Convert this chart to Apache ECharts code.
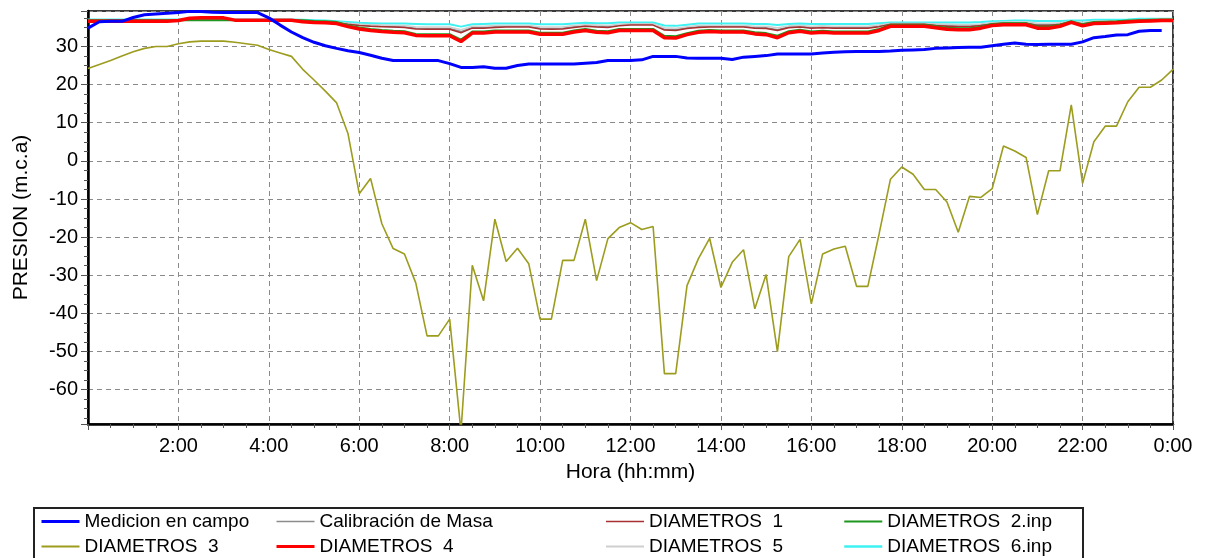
<!DOCTYPE html>
<html><head><meta charset="utf-8">
<script src="https://cdn.jsdelivr.net/npm/echarts@6/dist/echarts.min.js"></script>
<style>html,body{margin:0;padding:0;background:#fff}#c{width:1212px;height:558px}</style>
</head><body><div id="c"></div>
<script>
const hours = [0,0.25,0.5,0.75,1,1.25,1.5,1.75,2,2.25,2.5,2.75,3,3.25,3.5,3.75,4,4.25,4.5,4.75,5,5.25,5.5,5.75,6,6.25,6.5,6.75,7,7.25,7.5,7.75,8,8.25,8.5,8.75,9,9.25,9.5,9.75,10,10.25,10.5,10.75,11,11.25,11.5,11.75,12,12.25,12.5,12.75,13,13.25,13.5,13.75,14,14.25,14.5,14.75,15,15.25,15.5,15.75,16,16.25,16.5,16.75,17,17.25,17.5,17.75,18,18.25,18.5,18.75,19,19.25,19.5,19.75,20,20.25,20.5,20.75,21,21.25,21.5,21.75,22,22.25,22.5,22.75,23,23.25,23.5,23.75,24];
const xTickLabels = ['', '2:00', '4:00', '6:00', '8:00', '10:00', '12:00', '14:00', '16:00', '18:00', '20:00', '22:00', '0:00'];
const yTickLabels = [-60, -50, -40, -30, -20, -10, 0, 10, 20, 30];

const medicion = [34.8,36.5,36.6,36.6,37.6,38.3,38.5,38.7, 38.9,39.2,39.2,39.0,38.9,38.9,38.9,38.9, 37.5,35.6,33.8,32.3,31.1,30.2,29.5,28.9, 28.4,27.7,26.9,26.3,26.3,26.3,26.3,26.3, 25.5,24.5,24.5,24.7,24.3,24.3,25.0,25.4, 25.4,25.4,25.4,25.4,25.6,25.8,26.3,26.3, 26.3,26.5,27.4,27.4,27.4,27.0,26.9,26.9, 26.9,26.6,27.2,27.4,27.6,28.0,28.0,28.0, 28.0,28.3,28.5,28.6,28.7,28.7,28.7,28.8, 29.0,29.1,29.2,29.5,29.6,29.7,29.8,29.8, 30.2,30.6,30.9,30.6,30.5,30.6,30.6,30.6, 31.2,32.3,32.6,33.0,33.1,34.0,34.2,34.2, null];
const calibracion = [37.0,37.0,37.0,37.0,37.0,37.0,37.0,37.0, 37.0,37.0,37.0,37.0,37.0,37.0,37.0,37.0, 37.0,37.0,36.9,36.8,36.7,36.5,36.3,36.0, 35.6,35.4,35.3,35.2,35.1,34.8,34.7,34.7, 34.7,33.9,35.0,35.0,35.2,35.3,35.3,35.3, 34.8,34.7,34.8,35.2,35.5,35.3,35.2,35.6, 35.8,35.8,35.8,34.5,34.4,34.9,35.2,35.3, 35.3,35.3,35.3,35.0,34.9,34.4,35.1,35.3, 35.0,35.1,35.0,35.0,35.0,35.0,35.4,35.9, 35.9,35.9,35.9,35.7,35.5,35.4,35.4,35.7, 36.0,36.2,36.2,36.2,35.7,35.7,35.9,36.5, 36.0,36.4,36.5,36.6,36.7,36.9,37.0,37.1, 37.1];
const diametros1 = [36.9,36.9,36.9,36.9,36.9,36.9,36.9,36.9, 36.9,36.9,36.9,36.9,36.9,36.9,36.9,36.9, 36.9,36.9,36.8,36.7,36.6,36.4,36.2,35.8, 35.5,35.3,35.2,35.1,35.0,34.6,34.5,34.5, 34.5,33.6,34.8,34.8,35.0,35.1,35.1,35.1, 34.6,34.5,34.6,35.0,35.3,35.1,35.0,35.4, 35.6,35.6,35.6,34.3,34.2,34.7,35.0,35.1, 35.1,35.1,35.1,34.8,34.7,34.2,34.9,35.1, 34.8,34.9,34.8,34.8,34.8,34.8,35.2,35.8, 35.8,35.8,35.8,35.5,35.3,35.2,35.2,35.5, 35.9,36.1,36.1,36.1,35.5,35.5,35.8,36.4, 35.9,36.3,36.4,36.5,36.6,36.8,36.9,37.0, 37.0];
const diametros2 = [36.9,36.9,36.9,36.9,36.9,36.9,36.9,36.9, 36.9,36.9,36.9,36.9,36.9,36.9,36.9,36.9, 36.9,36.9,36.9,36.9,36.7,36.6,36.4,35.6, 35.0,34.6,34.3,34.1,34.0,33.3,33.2,33.2, 33.2,31.8,33.9,33.9,34.2,34.2,34.2,34.2, 33.6,33.6,33.6,34.2,34.6,34.1,34.0,34.6, 34.6,34.6,34.6,32.8,32.7,33.5,34.1,34.3, 34.2,34.2,34.2,33.7,33.5,32.8,34.0,34.4, 33.9,34.1,33.9,33.9,33.9,33.9,34.6,35.7, 35.7,35.7,35.7,35.3,34.9,34.8,34.8,35.2, 35.9,36.1,36.1,36.1,35.2,35.2,35.7,36.6, 35.8,36.4,36.5,36.6,36.8,36.9,37.0,37.1, 37.1];
const diametros3 = [24.2,25.3,26.3,27.5,28.6,29.5,30.0,30.0, 30.7,31.2,31.4,31.4,31.4,31.1,30.7,30.3, 29.2,28.3,27.4,24.0,21.2,18.3,15.2,7.2, -8.6,-4.6,-16.5,-23.0,-24.4,-32.0,-45.9,-45.9, -41.5,-71.0,-27.4,-36.7,-15.3,-26.4,-22.9,-27.0, -41.5,-41.5,-26.1,-26.1,-15.3,-31.4,-20.4,-17.5, -16.2,-18.0,-17.2,-55.8,-55.8,-32.7,-25.7,-20.3, -33.2,-26.6,-23.3,-38.8,-29.8,-50.0,-25.1,-20.6, -37.5,-24.4,-23.1,-22.4,-32.9,-32.9,-19.1,-4.8, -1.6,-3.5,-7.5,-7.5,-10.8,-18.7,-9.3,-9.6, -7.3,3.9,2.6,0.9,-14.1,-2.6,-2.6,14.7, -5.9,5.0,9.1,9.1,15.5,19.3,19.3,21.2, 24.0];
const diametros4 = [36.6,36.6,36.6,36.6,36.6,36.6,36.6,36.6, 36.8,37.4,37.5,37.5,37.5,36.9,36.9,36.9, 36.9,36.9,36.9,36.5,36.3,36.2,36.0,35.2, 34.6,34.2,33.9,33.7,33.6,32.9,32.8,32.8, 32.8,31.3,33.5,33.5,33.8,33.8,33.8,33.8, 33.2,33.2,33.2,33.8,34.2,33.7,33.6,34.2, 34.2,34.2,34.2,32.3,32.2,33.1,33.7,33.9, 33.8,33.8,33.8,33.3,33.1,32.3,33.6,34.0, 33.5,33.7,33.5,33.5,33.5,33.5,34.2,35.3, 35.3,35.3,35.3,34.9,34.5,34.4,34.4,34.8, 35.5,35.7,35.7,35.7,34.8,34.8,35.3,36.3, 35.4,36.0,36.1,36.2,36.4,36.6,36.7,36.8, 36.8];
const diametros5 = [37.0,37.0,37.0,37.0,37.0,37.0,37.0,37.0, 37.0,37.0,37.0,37.0,37.0,37.0,37.0,37.0, 37.0,37.0,36.9,36.8,36.7,36.6,36.4,36.1, 35.8,35.7,35.6,35.5,35.5,35.2,35.1,35.1, 35.1,34.4,35.3,35.3,35.5,35.5,35.5,35.5, 35.2,35.1,35.2,35.5,35.7,35.6,35.5,35.8, 35.9,35.9,35.9,34.9,34.8,35.2,35.5,35.5, 35.5,35.5,35.5,35.3,35.3,34.9,35.4,35.5, 35.3,35.4,35.3,35.3,35.3,35.3,35.6,36.0, 36.0,36.0,36.0,35.9,35.8,35.7,35.7,35.9, 36.2,36.4,36.4,36.4,36.1,36.1,36.2,36.6, 36.3,36.6,36.7,36.7,36.8,37.0,37.1,37.2, 37.2];
const diametros6 = [37.1,37.1,37.1,37.1,37.1,37.1,37.1,37.1, 37.1,37.1,37.1,37.1,37.1,37.1,37.1,37.1, 37.1,37.1,37.1,37.0,36.9,36.8,36.6,36.4, 36.2,36.1,36.0,36.0,36.0,35.9,35.8,35.8, 35.8,35.2,35.8,35.9,36.0,36.0,36.0,36.0, 35.8,35.8,35.8,36.0,36.2,36.1,36.1,36.3, 36.3,36.3,36.3,35.5,35.4,35.7,36.0,36.0, 36.0,36.0,36.0,35.9,35.9,35.6,35.9,36.0, 35.9,35.9,35.9,35.9,35.9,35.9,36.1,36.3, 36.3,36.3,36.3,36.3,36.3,36.3,36.3,36.4, 36.6,36.7,36.8,36.8,36.7,36.7,36.7,36.8, 36.8,37.0,37.0,37.0,37.1,37.3,37.3,37.3, 37.3];

const seriesNames = ['Medicion en campo', 'Calibración de Masa', 'DIAMETROS  1', 'DIAMETROS  2.inp', 'DIAMETROS  3', 'DIAMETROS  4', 'DIAMETROS  5', 'DIAMETROS  6.inp'];
const seriesValues = [medicion, calibracion, diametros1, diametros2, diametros3, diametros4, diametros5, diametros6];
const seriesColors = ['#0000ff', '#8c8c8c', '#a83030', '#1f961f', '#9c9c1e', '#ff0000', '#cfcfcf', '#3cf2f2'];
const seriesWidths = [3, 1.5, 1.5, 2, 1.6, 3.5, 1.5, 2];
const seriesZ = [6, 2, 3, 3, 4, 5, 2, 1];
const legendWidths = [3, 1.5, 1.5, 2, 2, 3, 2, 2.5];

const FONT = '"Liberation Sans", Arial, sans-serif';
const chart = echarts.init(document.getElementById('c'));

const series = seriesNames.map((n, i) => ({
  name: n, type: 'line', symbol: 'none', z: seriesZ[i], clip: true,
  data: hours.map((h, k) => [h, seriesValues[i][k]]),
  lineStyle: { color: seriesColors[i], width: seriesWidths[i] },
  itemStyle: { color: seriesColors[i] }
}));

const legendCols = [[0, 4], [1, 5], [2, 6], [3, 7]];
const legendLeft = [40, 275, 605, 843];
const legends = legendCols.map((col, i) => ({
  orient: 'vertical', left: legendLeft[i], top: 512, itemGap: 6, itemWidth: 38, itemHeight: 14,
  selectedMode: false, padding: 0,
  textStyle: { fontSize: 19, color: '#000', fontFamily: FONT },
  itemStyle: { opacity: 0 },
  data: col.map(k => ({ name: seriesNames[k], itemStyle: { opacity: 0 }, lineStyle: { width: legendWidths[k], color: seriesColors[k] } }))
}));

chart.setOption({
  animation: false,
  backgroundColor: '#fff',
  grid: { left: 88, right: 39, top: 11, bottom: 134, show: true, borderColor: '#3a3a3a', borderWidth: 2,
          outerBoundsMode: 'none', containLabel: false },
  legend: legends,
  graphic: [{
    type: 'rect', left: 33, top: 507, z: -1,
    shape: { width: 1049, height: 60 },
    style: { fill: '#fff', stroke: '#222', lineWidth: 2 }
  }],
  xAxis: {
    type: 'value', min: 0, max: 24, interval: 2,
    name: 'Hora (hh:mm)', nameLocation: 'middle', nameGap: 38,
    nameTextStyle: { fontSize: 21, color: '#000', fontFamily: FONT },
    axisLine: { show: true, onZero: false, lineStyle: { color: '#000', width: 2.5 } },
    axisTick: { show: true, length: 6, lineStyle: { color: '#555' } },
    minorTick: { show: true, splitNumber: 4, length: 4, lineStyle: { color: '#555' } },
    axisLabel: { fontSize: 20, color: '#000', margin: 12, fontFamily: FONT,
      formatter: v => xTickLabels[Math.round(v / 2)] },
    splitLine: { show: true, lineStyle: { color: '#8a8a8a', type: [5, 4], width: 1 } }
  },
  yAxis: {
    type: 'value', min: -69, max: 39.3, splitNumber: 10,
    name: 'PRESION (m.c.a)', nameLocation: 'middle', nameGap: 56,
    nameTextStyle: { fontSize: 21, color: '#000', fontFamily: FONT },
    axisLine: { show: true, onZero: false, lineStyle: { color: '#000', width: 2.5 } },
    axisTick: { show: true, length: 7, lineStyle: { color: '#555' } },
    minorTick: { show: true, splitNumber: 4, length: 4, lineStyle: { color: '#555' } },
    axisLabel: { fontSize: 20, color: '#000', margin: 10, fontFamily: FONT,
      showMinLabel: false, showMaxLabel: false,
      formatter: v => (yTickLabels.indexOf(Math.round(v)) >= 0 && Math.abs(v - Math.round(v)) < 1e-6) ? String(Math.round(v)) : '' },
    splitLine: { show: true, lineStyle: { color: '#8a8a8a', type: [5, 4], width: 1 } }
  },
  series: series
});
</script>
</body></html>
